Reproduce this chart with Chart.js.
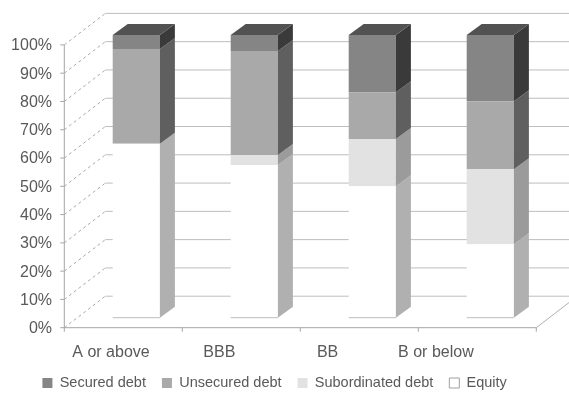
<!DOCTYPE html>
<html>
<head>
<meta charset="utf-8">
<script src="https://cdn.jsdelivr.net/npm/chart.js@4.4.1/dist/chart.umd.min.js"></script>
<style>
  html, body { margin: 0; padding: 0; background: #ffffff; }
  canvas { display: block; }
</style>
</head>
<body>
<canvas id="chart" width="569" height="395"></canvas>
<script>
// Capital structure by rating bucket (shares of total, %)
const categories   = ['A or above', 'BBB', 'BB', 'B or below'];
const equity       = [61.5, 54.0, 46.5, 26.0];
const subordinated = [0.0, 3.5, 16.7, 26.5];
const unsecured    = [33.5, 36.8, 16.5, 24.0];
const secured      = [5.0, 5.7, 20.3, 23.5];
const percentTicks = [0, 10, 20, 30, 40, 50, 60, 70, 80, 90, 100];

// Face shades for the pseudo-3D columns
const shades = {
  'Equity':            { front: '#ffffff', side: '#b0b0b0', top: '#d4d4d4' },
  'Subordinated debt': { front: '#e2e2e2', side: '#9b9b9b', top: '#bdbdbd' },
  'Unsecured debt':    { front: '#a9a9a9', side: '#5f5f5f', top: '#7a7a7a' },
  'Secured debt':      { front: '#858585', side: '#3a3a3a', top: '#525252' }
};

// Offsets of the front plane, back wall and column depth relative to the column faces
const depth = {
  front: { dx: -13, dy: 10 },
  back:  { dx: 28,  dy: -21.5 },
  column:{ dx: 15,  dy: -11 }
};

function seg(ctx, x1, y1, x2, y2) {
  ctx.beginPath();
  ctx.moveTo(x1, y1);
  ctx.lineTo(x2, y2);
  ctx.stroke();
}

function poly(ctx, pts, fill) {
  ctx.beginPath();
  ctx.moveTo(pts[0][0], pts[0][1]);
  for (let i = 1; i < pts.length; i++) ctx.lineTo(pts[i][0], pts[i][1]);
  ctx.closePath();
  ctx.fillStyle = fill;
  ctx.fill();
}

const frame3d = {
  id: 'frame3d',
  beforeDatasetsDraw(chart) {
    const { ctx, chartArea: a, scales } = chart;
    const y = scales.y, x = scales.x;
    const f = depth.front, b = depth.back;
    ctx.save();
    ctx.lineWidth = 1;
    y.ticks.forEach(t => {
      const py = y.getPixelForValue(t.value);
      // back wall gridline
      ctx.setLineDash([]);
      ctx.strokeStyle = '#bdbdbd';
      seg(ctx, a.left + b.dx, py + b.dy, a.right + b.dx, py + b.dy);
      // side wall gridline
      ctx.setLineDash([3, 3]);
      ctx.strokeStyle = '#a8a8a8';
      seg(ctx, a.left + f.dx, py + f.dy, a.left + b.dx, py + b.dy);
      // axis tick mark
      ctx.setLineDash([]);
      ctx.strokeStyle = '#a6a6a6';
      seg(ctx, a.left + f.dx - 4, py + f.dy, a.left + f.dx, py + f.dy);
    });
    const y0 = y.getPixelForValue(0);
    const y1 = y.getPixelForValue(100);
    ctx.setLineDash([]);
    ctx.strokeStyle = '#b0b0b0';
    // floor right edge
    seg(ctx, a.right + f.dx, y0 + f.dy, a.right + b.dx, y0 + b.dy);
    // value axis line and floor front edge
    ctx.strokeStyle = '#a6a6a6';
    seg(ctx, a.left + f.dx, y1 + f.dy, a.left + f.dx, y0 + f.dy);
    seg(ctx, a.left + f.dx, y0 + f.dy, a.right + f.dx, y0 + f.dy);
    // category boundary ticks
    const step = x.getPixelForValue(1) - x.getPixelForValue(0);
    for (let i = 0; i <= categories.length; i++) {
      const px = x.getPixelForValue(0) - step / 2 + i * step + f.dx;
      seg(ctx, px, y0 + f.dy, px, y0 + f.dy + 4);
    }
    ctx.restore();
  },
  afterDatasetsDraw(chart) {
    const { ctx } = chart;
    const c = depth.column;
    const datasets = chart.data.datasets;
    ctx.save();
    categories.forEach((_, j) => {
      let topIndex = -1;
      datasets.forEach((ds, i) => { if (ds.data[j] > 0) topIndex = i; });
      datasets.forEach((ds, i) => {
        const el = chart.getDatasetMeta(i).data[j];
        const { x, y, base, width } = el.getProps(['x', 'y', 'base', 'width'], true);
        if (Math.abs(base - y) < 0.3) return;
        const L = x - width / 2, R = x + width / 2;
        const s = shades[ds.label];
        poly(ctx, [[R, y], [R + c.dx, y + c.dy], [R + c.dx, base + c.dy], [R, base]], s.side);
        if (i === topIndex) {
          poly(ctx, [[L, y], [L + c.dx, y + c.dy], [R + c.dx, y + c.dy], [R, y]], s.top);
        }
        if (i === 0) {
          ctx.strokeStyle = '#bdbdbd';
          ctx.lineWidth = 1;
          seg(ctx, L, base, R, base);
        }
      });
    });
    ctx.restore();
  }
};

Chart.defaults.font.family = '"Liberation Sans", Arial, sans-serif';
Chart.defaults.color = '#595959';

const seriesData = {
  'Equity': equity,
  'Subordinated debt': subordinated,
  'Unsecured debt': unsecured,
  'Secured debt': secured
};

new Chart(document.getElementById('chart'), {
  type: 'bar',
  data: {
    labels: categories,
    datasets: Object.keys(seriesData).map(name => ({
      label: name,
      data: seriesData[name],
      backgroundColor: shades[name].front,
      borderWidth: 0,
      categoryPercentage: 0.8,
      barPercentage: 0.5
    }))
  },
  options: {
    responsive: false,
    animation: false,
    devicePixelRatio: 1,
    layout: { padding: { top: 29.3, left: 0, right: 19.7, bottom: 0 } },
    plugins: {
      tooltip: { enabled: false },
      legend: {
        position: 'bottom',
        reverse: true,
        maxHeight: 35.25,
        labels: {
          boxWidth: 10,
          boxHeight: 10,
          padding: 16,
          font: { size: 14.5 },
          color: '#595959',
          generateLabels(chart) {
            const items = Chart.defaults.plugins.legend.labels.generateLabels(chart);
            items.forEach(it => {
              const name = chart.data.datasets[it.datasetIndex].label;
              it.fillStyle = shades[name].front;
              it.lineWidth = name === 'Equity' ? 1 : 0;
              it.strokeStyle = '#a0a0a0';
            });
            return items;
          }
        }
      }
    },
    scales: {
      x: {
        stacked: true,
        display: false
      },
      xLabels: {
        type: 'linear',
        position: 'bottom',
        bounds: 'data',
        offset: false,
        min: -0.311,
        max: 4.047,
        grid: { display: false, drawTicks: false, offset: false },
        border: { display: false },
        ticks: {
          autoSkip: false,
          maxRotation: 0,
          padding: 25,
          font: { size: 16 },
          color: '#595959',
          callback: v => categories[v] !== undefined ? categories[v] : ''
        },
        afterBuildTicks: s => { s.ticks = categories.map((_, i) => ({ value: i })); },
        afterFit: s => { s.height = 42.05; }
      },
      y: {
        stacked: true,
        min: 0,
        max: 100,
        grid: { display: false, drawTicks: false },
        border: { display: false },
        ticks: {
          padding: 25.3,
          labelOffset: 11,
          font: { size: 16 },
          color: '#595959',
          callback: v => v + '%'
        },
        afterBuildTicks: s => { s.ticks = percentTicks.map(v => ({ value: v })); },
        afterFit: s => { s.width = 77.3; }
      }
    }
  },
  plugins: [frame3d]
});
</script>
</body>
</html>
